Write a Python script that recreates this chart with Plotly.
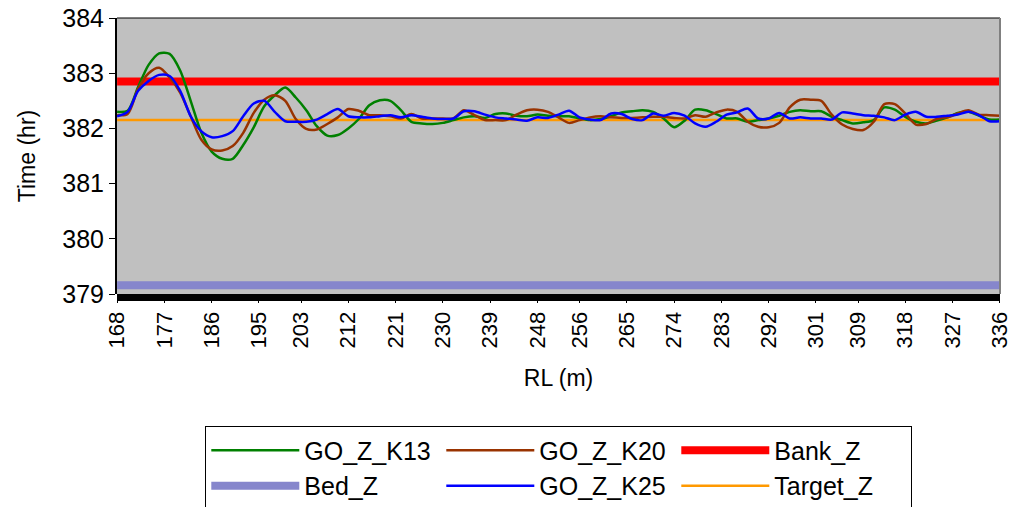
import plotly.graph_objects as go

# RL (m) sample positions
rl = list(range(168, 337, 2))

go_z_k13 = [382.30, 382.32, 382.75, 383.15, 383.36, 383.35, 383.05, 382.50, 381.93, 381.58,
            381.45, 381.45, 381.70, 382.02, 382.40, 382.60, 382.74, 382.56, 382.33, 382.04,
            381.87, 381.88, 382.00, 382.17, 382.42, 382.51, 382.50, 382.33, 382.12, 382.09,
            382.08, 382.10, 382.15,
            382.20, 382.22, 382.19, 382.26, 382.27, 382.23, 382.22, 382.25, 382.23, 382.22,
            382.22, 382.18, 382.15, 382.17, 382.22, 382.29, 382.31, 382.33, 382.30, 382.18,
            382.02, 382.14, 382.34, 382.33, 382.26, 382.18, 382.18, 382.12, 382.15, 382.18,
            382.23, 382.30, 382.33, 382.31, 382.31, 382.21, 382.15, 382.09, 382.11, 382.15,
            382.38, 382.34, 382.21, 382.12, 382.09, 382.14, 382.20, 382.28, 382.30, 382.23,
            382.16, 382.16]

go_z_k20 = [382.24, 382.26, 382.72, 383.00, 383.10, 382.92, 382.65, 382.22, 381.80, 381.62,
            381.60, 381.68, 381.92, 382.28, 382.52, 382.60, 382.50, 382.17, 381.99, 381.98,
            382.08, 382.20, 382.35, 382.32, 382.24, 382.24, 382.22, 382.18, 382.26, 382.18,
            382.18, 382.18, 382.18,
            382.33, 382.24, 382.15, 382.15, 382.15, 382.25, 382.33, 382.34, 382.30, 382.20,
            382.10, 382.15, 382.20, 382.22, 382.20, 382.19, 382.19, 382.20, 382.21, 382.21,
            382.19, 382.18, 382.24, 382.21, 382.29, 382.34, 382.30, 382.12, 382.03, 382.02,
            382.10, 382.38, 382.52, 382.52, 382.50, 382.25, 382.07, 381.99, 381.97, 382.12,
            382.44, 382.44, 382.27, 382.07, 382.08, 382.17, 382.20, 382.27, 382.33, 382.25,
            382.24, 382.23]

go_z_k25 = [382.22, 382.30, 382.68, 382.86, 382.97, 382.95, 382.68, 382.22, 381.95, 381.84,
            381.86, 381.95, 382.22, 382.45, 382.50, 382.30, 382.13, 382.12, 382.12, 382.16,
            382.26, 382.35, 382.22, 382.20, 382.20, 382.22, 382.24, 382.20, 382.24, 382.21,
            382.18, 382.17, 382.18,
            382.31, 382.31, 382.25, 382.20, 382.18, 382.16, 382.14, 382.20, 382.19, 382.25,
            382.32, 382.20, 382.16, 382.15, 382.27, 382.26, 382.17, 382.15, 382.27, 382.23,
            382.28, 382.23, 382.09, 382.03, 382.12, 382.25, 382.29, 382.36, 382.18, 382.18,
            382.28, 382.18, 382.20, 382.18, 382.18, 382.16, 382.29, 382.27, 382.24, 382.23,
            382.20, 382.15, 382.25, 382.30, 382.21, 382.21, 382.23, 382.25, 382.30, 382.24,
            382.13, 382.13]

bank_z_level = 382.85
bed_z_level = 379.16
target_z_level = 382.15

x_tick_labels = ["168", "177", "186", "195", "203", "212", "221", "230", "239", "248",
                 "256", "265", "274", "283", "292", "301", "309", "318", "327", "336"]
y_ticks = [379, 380, 381, 382, 383, 384]

bank_z = [bank_z_level] * len(rl)
bed_z = [bed_z_level] * len(rl)
target_z = [target_z_level] * len(rl)

FONT = "Liberation Sans, Arial, sans-serif"

fig = go.Figure()
fig.add_trace(go.Scatter(x=rl, y=bed_z, mode="lines", name="Bed_Z", cliponaxis=False,
                         line=dict(color="#8686cc", width=8), legendrank=4))
fig.add_trace(go.Scatter(x=rl, y=bank_z, mode="lines", name="Bank_Z",
                         line=dict(color="#ff0000", width=8), legendrank=3))
fig.add_trace(go.Scatter(x=rl, y=target_z, mode="lines", name="Target_Z",
                         line=dict(color="#ff9900", width=2.5), legendrank=6))
fig.add_trace(go.Scatter(x=rl, y=go_z_k13, mode="lines", name="GO_Z_K13",
                         line=dict(color="#008000", width=2.5, shape="spline", smoothing=0.8),
                         legendrank=1))
fig.add_trace(go.Scatter(x=rl, y=go_z_k20, mode="lines", name="GO_Z_K20",
                         line=dict(color="#993300", width=2.5, shape="spline", smoothing=0.8),
                         legendrank=2))
fig.add_trace(go.Scatter(x=rl, y=go_z_k25, mode="lines", name="GO_Z_K25",
                         line=dict(color="#0000ff", width=2.5, shape="spline", smoothing=0.8),
                         legendrank=5))

fig.update_layout(
    width=1013, height=507,
    margin=dict(l=117, r=13, t=18, b=213, autoexpand=False),
    paper_bgcolor="white",
    plot_bgcolor="#c0c0c0",
    font=dict(family=FONT, size=22, color="black"),
    showlegend=True,
    legend=dict(orientation="h", x=0.1, y=-0.48, xanchor="left", yanchor="top",
                bgcolor="white", bordercolor="black", borderwidth=1,
                font=dict(size=25), entrywidth=132, itemwidth=88,
                traceorder="normal"),
    xaxis=dict(range=[167.98, 336.02], tickmode="array",
               tickvals=[int(t) for t in x_tick_labels], ticktext=x_tick_labels,
               tickangle=-90, ticks="outside", ticklen=8, tickcolor="black",
               ticklabeloverflow="allow",
               showgrid=False, zeroline=False, showline=False,
               tickfont=dict(size=22),
               title=dict(text="RL (m)", font=dict(size=23), standoff=22)),
    yaxis=dict(range=[379, 384], tickmode="array", tickvals=y_ticks,
               ticks="outside", ticklen=6, tickcolor="black", tickwidth=1,
               showgrid=False, zeroline=False, showline=True, linecolor="black",
               linewidth=2, tickfont=dict(size=25),
               title=dict(text="Time (hr)", font=dict(size=23), standoff=20)),
    shapes=[
        dict(type="rect", xref="paper", yref="paper", x0=0, x1=1, y0=0, y1=-7,
             ysizemode="pixel", yanchor=0, fillcolor="black", line=dict(width=0), layer="above"),
        dict(type="line", xref="paper", yref="paper", x0=0, x1=1, y0=1, y1=1,
             line=dict(color="black", width=1)),
        dict(type="line", xref="paper", yref="paper", x0=1, x1=1, y0=0, y1=1,
             line=dict(color="#808080", width=2)),
    ],
)

fig.write_html("out.html")
